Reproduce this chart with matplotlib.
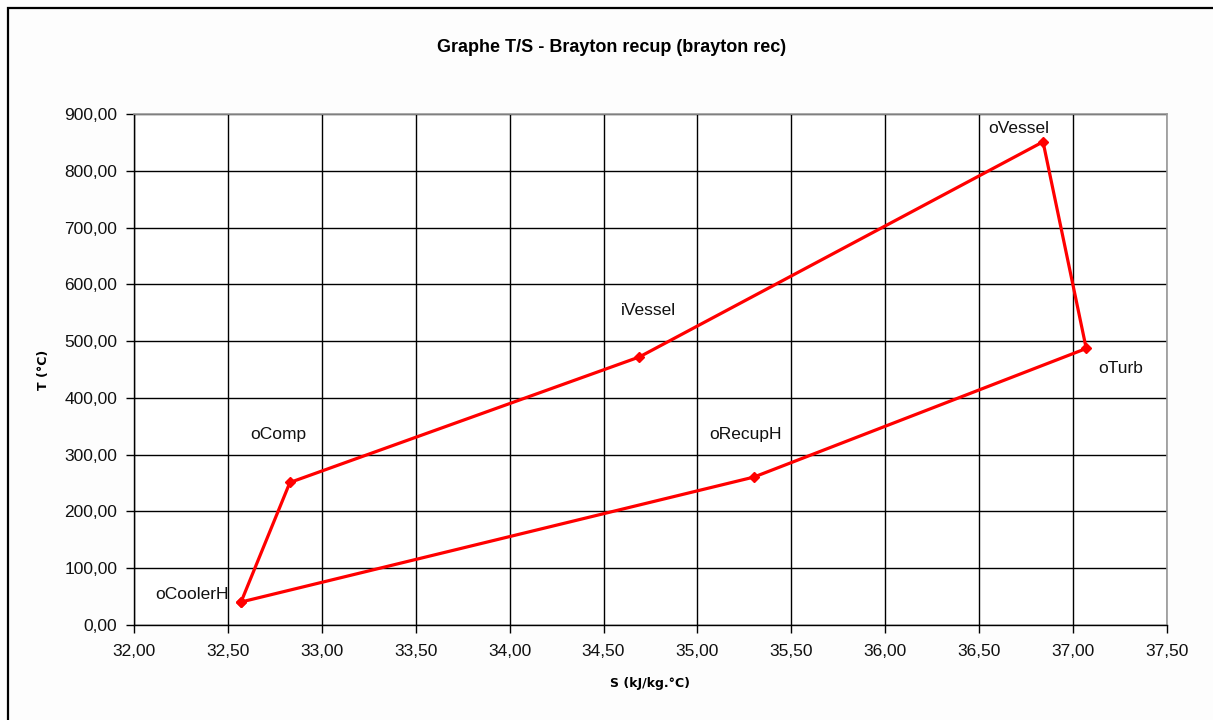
import matplotlib
matplotlib.use("Agg")
import matplotlib.pyplot as plt
from matplotlib.patches import Rectangle
from matplotlib.ticker import FuncFormatter, MultipleLocator

plt.rcParams["font.family"] = ["Liberation Sans", "DejaVu Sans"]

# cycle points, in drawing order (closed loop back to oCoolerH)
names = ["oCoolerH", "oComp", "iVessel", "oVessel", "oTurb", "oRecupH"]
S = [32.57, 32.83, 34.69, 36.84, 37.07, 35.30]
T = [40.5, 251.0, 472.0, 851.0, 487.0, 260.5]
# label offsets in pixels (dx, dy) from each point
label_off = [(-49, 8), (-12, 48), (9, 47), (-24, 13), (34, -20), (-8, 43)]

RED = "#ff0000"

def comma(v, _pos):
    return f"{v:.2f}".replace(".", ",")

fig = plt.figure(figsize=(12.13, 7.2), dpi=100)
fig.patch.set_facecolor("#fdfdfd")
fig.patches.append(Rectangle((8 / 1213, -0.1), 2.0, 1.1 - 8 / 720, transform=fig.transFigure,
                             fill=False, edgecolor="black", linewidth=1.6))

ax = fig.add_axes([134 / 1213, 95 / 720, 1033 / 1213, 511 / 720])
ax.set_facecolor("white")

ax.plot(S + S[:1], T + T[:1], color=RED, linewidth=2.3, marker="D", markersize=5,
        markerfacecolor=RED, markeredgecolor=RED, zorder=3)
for n, x, y, (dx, dy) in zip(names, S, T, label_off):
    ax.annotate(n, (x, y), xytext=(dx, dy), textcoords="offset pixels",
                ha="center", va="center", fontsize=12.5, color="#111111")

ax.set_xlim(32, 37.5)
ax.set_ylim(0, 900)
ax.xaxis.set_major_locator(MultipleLocator(0.5))
ax.yaxis.set_major_locator(MultipleLocator(100))
ax.xaxis.set_major_formatter(FuncFormatter(comma))
ax.yaxis.set_major_formatter(FuncFormatter(comma))
ax.grid(True, color="black", linewidth=1.0)
ax.set_axisbelow(True)
ax.tick_params(axis="both", direction="out", length=6, width=1, color="black",
               labelsize=12.5, labelcolor="#111111")
ax.tick_params(axis="x", pad=8)
ax.tick_params(axis="y", pad=6)

for side in ("left", "bottom"):
    ax.spines[side].set_color("black")
    ax.spines[side].set_linewidth(1.0)
for side in ("top", "right"):
    ax.spines[side].set_color("#999999")
    ax.spines[side].set_linewidth(1.2)

ax.set_xlabel("S (kJ/kg.°C)", fontsize=9, fontweight="bold", labelpad=13,
              family=["DejaVu Sans"])
ax.set_ylabel("T (°C)", fontsize=9, fontweight="bold", labelpad=10,
              family=["DejaVu Sans"])
fig.text(612 / 1213, 1 - 47 / 720, "Graphe T/S - Brayton recup (brayton rec)",
         ha="center", va="center", fontsize=13, fontweight="bold")

fig.savefig("out.png", dpi=100, facecolor=fig.get_facecolor())
